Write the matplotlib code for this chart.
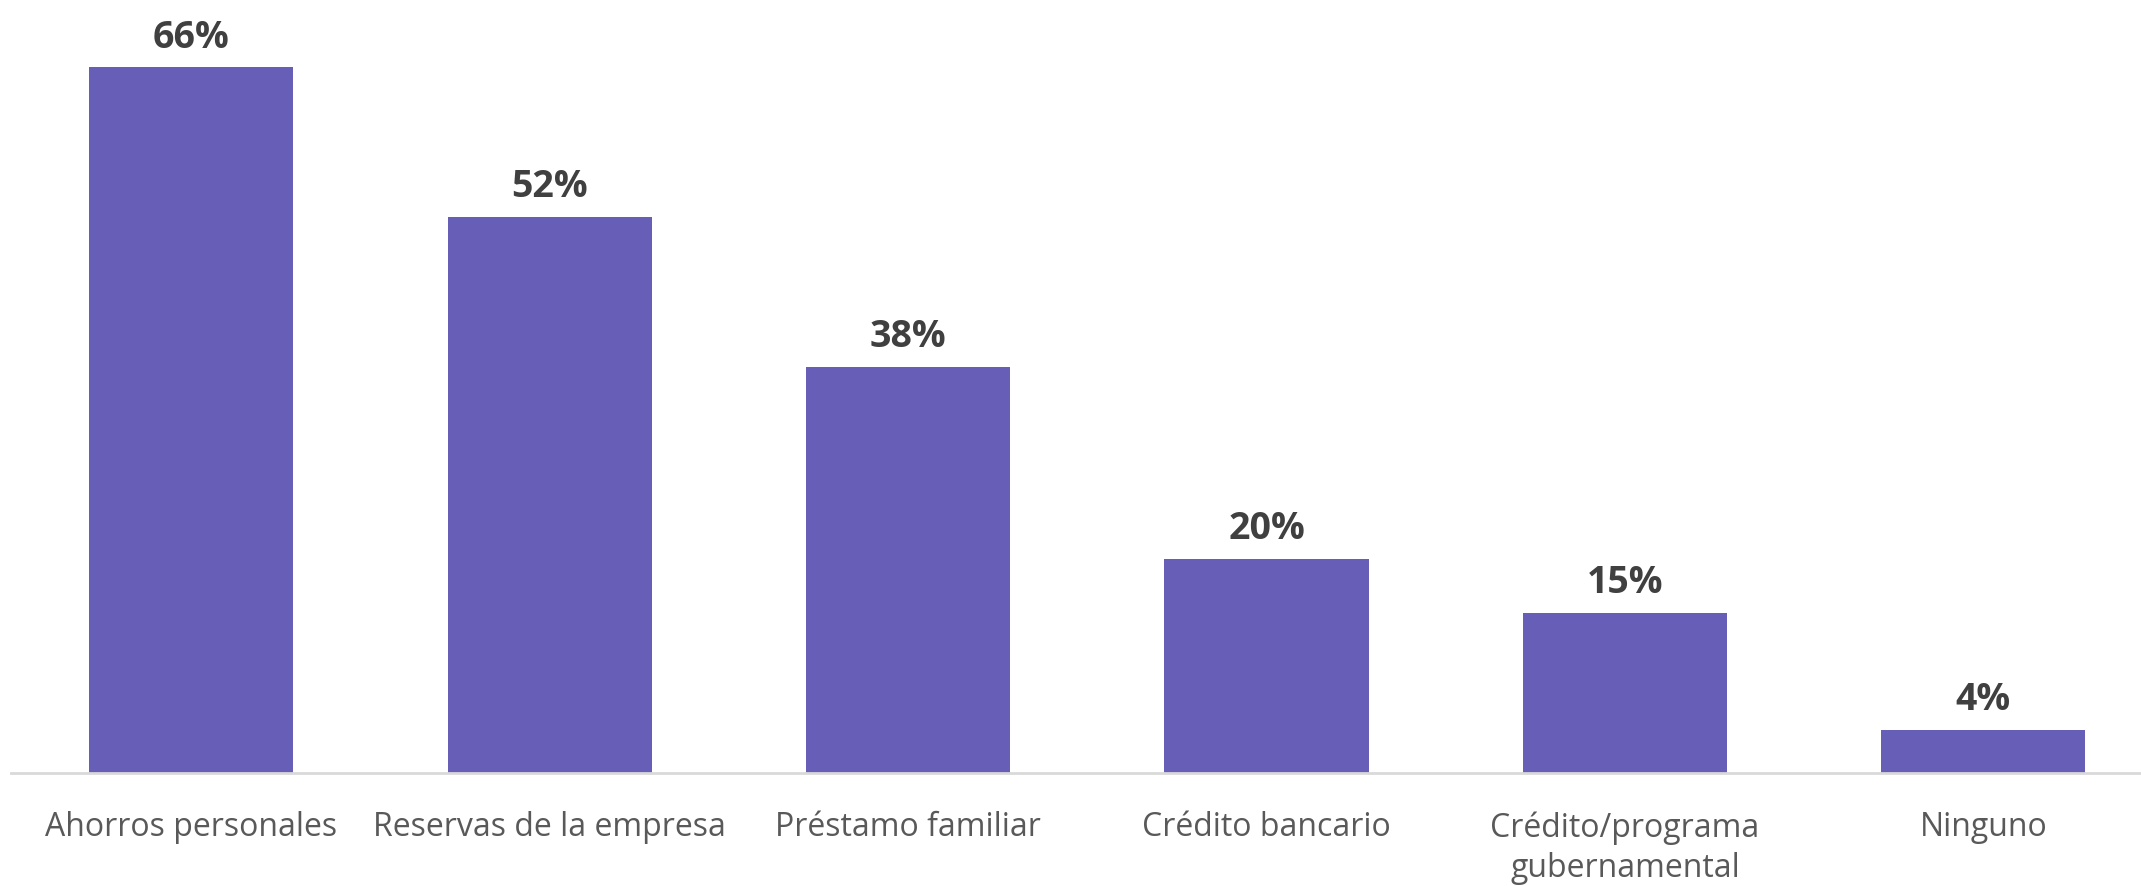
import matplotlib.pyplot as plt

# Datos del gráfico
categorias = ['Ahorros personales', 'Reservas de la empresa', 'Préstamo familiar',
              'Crédito bancario', 'Crédito/programa\ngubernamental', 'Ninguno']
valores = [66, 52, 38, 20, 15, 4]
etiquetas = ['66%', '52%', '38%', '20%', '15%', '4%']

COLOR_BARRA = '#675EB8'

fig = plt.figure(figsize=(21.41, 8.87), dpi=100)
# ejes colocados a mano para que coincida con la imagen de referencia
ax = fig.add_axes([11 / 2141, 113 / 887, 1 - 11 / 2141, 774 / 887])

x = range(len(categorias))
barras = ax.bar(x, valores, width=0.57, color=COLOR_BARRA)

for b, txt in zip(barras, etiquetas):
    ax.annotate(txt, (b.get_x() + b.get_width() / 2, b.get_height()),
                xytext=(0, 15), textcoords='offset points',
                ha='center', va='baseline', fontsize=27, fontweight='bold',
                color='#404040', family='Open Sans')

ax.set_xlim(-0.503, 5.44)
ax.set_ylim(0, 72.4)

ax.set_xticks(list(x))
ax.set_xticklabels(categorias, fontsize=23, color='#595959', family='Open Sans',
                   linespacing=1.3)
ax.tick_params(axis='x', length=0, pad=27)
ax.set_yticks([])

for lado in ['top', 'right', 'left']:
    ax.spines[lado].set_visible(False)
ax.spines['bottom'].set_color('#D9D9D9')
ax.spines['bottom'].set_linewidth(2)

fig.savefig('out.png', dpi=100)
